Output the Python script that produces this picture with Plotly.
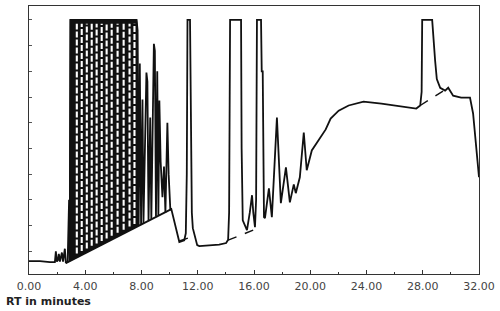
import plotly.graph_objects as go

# Chromatogram trace (retention time in minutes, detector signal in arbitrary units)
rt = [0.00, 0.78, 1.49, 1.84, 1.91, 1.98, 2.05, 2.12, 2.20, 2.34, 2.42, 2.55, 2.62, 2.75, 2.85, 2.90,
      # saturated cluster 3-7.7 min (clipped at full scale)
      2.94, 3.10, 3.20, 7.65,
      # descending part of the cluster
      7.72, 7.80, 7.88, 7.97, 8.07, 8.14, 8.35, 8.42, 8.50, 8.62, 8.70, 8.88, 8.95, 9.03, 9.12, 9.20,
      9.27, 9.36, 9.49, 9.60, 9.70, 9.84, 9.93, 10.05, 10.12,
      # 10-16.8 min
      10.69, 11.04, 11.15, 11.22, 11.27, 11.45, 11.52, 11.58, 11.65, 11.96, 12.11, 13.00, 13.52, 14.02,
      14.16, 14.23, 14.30, 15.08, 15.12, 15.20, 15.43, 15.50, 15.70, 15.86, 15.95, 16.07, 16.15, 16.21,
      16.50, 16.55, 16.62, 16.66, 16.71, 16.78,
      # 17-32 min
      17.06, 17.27, 17.63, 17.91, 18.27, 18.55, 18.83, 18.97, 19.26, 19.54, 19.75, 20.11, 20.60, 21.10,
      21.45, 22.02, 22.73, 23.79, 25.06, 26.05, 26.97, 27.54, 27.82, 27.92, 27.96, 28.67, 28.88, 29.00,
      29.24, 29.59, 29.81, 30.16, 30.73, 31.36, 31.58, 31.79, 32.00]

signal = [0.62, 0.62, 0.58, 0.58, 1.00, 0.60, 0.65, 0.90, 0.60, 0.95, 0.60, 1.10, 0.55, 0.60, 3.00, 0.62,
          10.0, 10.0, 10.0, 10.0,
          9.60, 2.00, 8.30, 2.05, 6.90, 2.10, 7.95, 7.60, 2.20, 6.20, 2.25, 9.07, 8.80, 2.35, 8.00, 2.40,
          6.86, 4.50, 3.10, 4.30, 2.50, 6.00, 4.00, 2.62, 2.64,
          1.36, 1.43, 1.70, 4.00, 10.0, 10.0, 6.00, 2.50, 1.90, 1.24, 1.20, 1.22, 1.26, 1.32,
          1.45, 2.50, 10.0, 10.0, 5.00, 2.20, 1.94, 1.82, 2.50, 3.18, 2.50, 1.94, 3.00, 10.0,
          10.0, 8.00, 8.00, 5.00, 2.33, 2.29,
          3.45, 2.33, 6.20, 2.87, 4.26, 2.90, 3.60, 3.26, 3.88, 5.62, 4.15, 4.92, 5.35, 5.74,
          6.16, 6.47, 6.67, 6.82, 6.74, 6.67, 6.59, 6.55, 6.67, 7.20, 10.0, 10.0, 8.41, 7.70,
          7.36, 7.25, 7.36, 7.05, 6.98, 6.98, 6.36, 5.04, 3.88]

# Saturated-cluster area (upper envelope, then integration baseline back)
cluster_rt = [2.88, 2.94, 7.65, 7.72, 7.78, 2.62]
cluster_sig = [0.62, 10.0, 10.0, 9.60, 2.00, 0.54]

# Drop lines between the overlapping saturated peaks
drop_rt = [3.40, 3.75, 4.11, 4.46, 4.81, 5.17, 5.52, 5.88, 6.30, 6.73, 7.15, 7.50]
drop_base = [0.76, 0.86, 0.96, 1.06, 1.15, 1.25, 1.35, 1.45, 1.57, 1.69, 1.81, 1.91]
drop_top = 9.85

# Integration baselines (start/end points)
base_main_rt = [2.62, 10.12]
base_main_sig = [0.54, 2.64]
base_dash_rt = [[10.69, 11.63], [14.16, 16.30], [27.82, 29.81]]
base_dash_sig = [[1.40, 1.57], [1.43, 1.90], [6.67, 7.36]]

x_ticks = [0, 4, 8, 12, 16, 20, 24, 28, 32]
x_labels = ["0.00", "4.00", "8.00", "12.00", "16.00", "20.00", "24.00", "28.00", "32.00"]
x_minor = [2, 6, 10, 14, 18, 22, 26, 30]
y_ticks = [1, 2, 3, 4, 5, 6, 7, 8, 9, 10]

INK = "#111111"
fig = go.Figure()
fig.add_trace(go.Scatter(x=cluster_rt, y=cluster_sig, mode="lines", fill="toself",
                         fillcolor=INK, line=dict(color=INK, width=1), hoverinfo="skip"))
for t, b in zip(drop_rt, drop_base):
    fig.add_trace(go.Scatter(x=[t, t], y=[b + 0.15, drop_top], mode="lines",
                             line=dict(color="white", width=2.1, dash="6px,2px"),
                             hoverinfo="skip"))
fig.add_trace(go.Scatter(x=rt, y=signal, mode="lines",
                         line=dict(color=INK, width=1.8), hoverinfo="skip"))
fig.add_trace(go.Scatter(x=base_main_rt, y=base_main_sig, mode="lines",
                         line=dict(color=INK, width=1.8), hoverinfo="skip"))
for bx, by in zip(base_dash_rt, base_dash_sig):
    fig.add_trace(go.Scatter(x=bx, y=by, mode="lines",
                             line=dict(color=INK, width=1.4, dash="dash"), hoverinfo="skip"))

fig.update_layout(
    width=500, height=311,
    margin=dict(l=29, r=19, t=5, b=37),
    paper_bgcolor="white", plot_bgcolor="white",
    showlegend=False,
    font=dict(family="DejaVu Sans", size=11, color="#444444"),
    xaxis=dict(range=[0, 32], tickvals=x_ticks, ticktext=x_labels,
               showgrid=False, zeroline=False, showline=True, linecolor="#333333",
               linewidth=1, mirror=True, ticks="inside", ticklen=4, tickcolor="#333333",
               ticklabelstandoff=2,
               minor=dict(tickvals=x_minor, ticks="inside", ticklen=2, tickcolor="#333333"),
               tickfont=dict(family="DejaVu Sans", size=11, color="#444444")),
    yaxis=dict(range=[0.116, 10.54], tickvals=y_ticks, showticklabels=False,
               showgrid=False, zeroline=False, showline=True, linecolor="#333333",
               linewidth=1, mirror=True, ticks="inside", ticklen=3, tickcolor="#555555"),
    annotations=[dict(text="<b>RT in minutes</b>", xref="paper", yref="paper",
                      x=-0.055, y=-0.104, xanchor="left", yanchor="middle", showarrow=False,
                      font=dict(family="DejaVu Sans", size=11, color="#222222"))],
)

fig.write_html("out.html")
